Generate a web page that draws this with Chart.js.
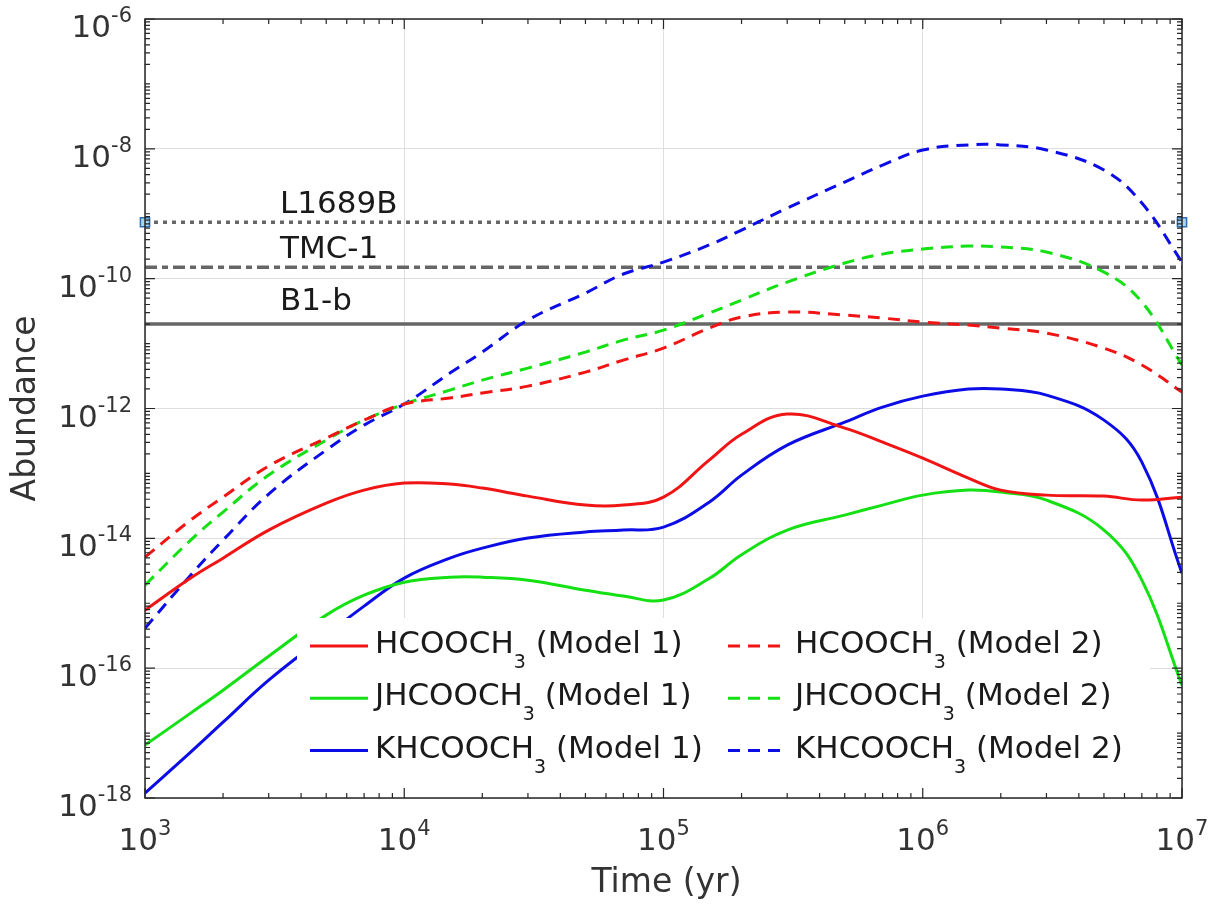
<!DOCTYPE html>
<html>
<head>
<meta charset="utf-8">
<script src="https://cdn.jsdelivr.net/npm/chart.js@4.4.1/dist/chart.umd.min.js"></script>
<style>
  html, body { margin: 0; padding: 0; background: #fff; }
  #wrap { width: 1218px; height: 905px; }
</style>
</head>
<body>
<div id="wrap"><canvas id="abundanceChart" width="1218" height="905"></canvas></div>
<script>
// time grid (yr)
const times = [1e3, 1.5e3, 2e3, 3e3, 5e3, 7e3,
               1e4, 1.5e4, 2e4, 3e4, 5e4, 7e4,
               1e5, 1.5e5, 2e5, 3e5, 5e5, 7e5,
               1e6, 1.5e6, 2e6, 3e6, 5e6, 7e6, 1e7];

// Model 1
const hcoochM1 = [7.8e-16, 2.44e-15, 4.95e-15, 1.34e-14, 3.48e-14, 5.53e-14,
                  7.1e-14, 6.85e-14, 5.94e-14, 4.47e-14, 3.25e-14, 3.25e-14,
                  4.31e-14, 1.6e-13, 4.0e-13, 8.2e-13, 4.99e-13, 3.03e-13,
                  1.72e-13, 8.47e-14, 5.53e-14, 4.63e-14, 4.47e-14, 3.88e-14, 4.31e-14];
const jhcoochM1 = [6.52e-18, 2.03e-17, 4.58e-17, 1.53e-16, 6.56e-16, 1.33e-15,
                   2.11e-15, 2.52e-15, 2.52e-15, 2.27e-15, 1.59e-15, 1.29e-15,
                   1.12e-15, 2.4e-15, 5.6e-15, 1.34e-14, 2.28e-14, 3.25e-14,
                   4.63e-14, 5.53e-14, 5.15e-14, 3.88e-14, 1.34e-14, 2.27e-15, 5.47e-17];
const khcoochM1 = [1.19e-18, 5.08e-18, 1.47e-17, 6.53e-17, 3.23e-16, 9.02e-16,
                   2.44e-15, 4.95e-15, 7.06e-15, 1.01e-14, 1.25e-14, 1.34e-14,
                   1.49e-14, 3.6e-14, 9.4e-14, 2.73e-13, 6.17e-13, 1.05e-12,
                   1.55e-12, 1.99e-12, 1.99e-12, 1.61e-12, 6.62e-13, 1.49e-13, 2.91e-15];

// Model 2
const hcoochM2 = [5.13e-15, 1.91e-14, 4.31e-14, 1.3e-13, 3.5e-13, 6.62e-13,
                  1.17e-12, 1.45e-12, 1.73e-12, 2.21e-12, 3.64e-12, 5.57e-12,
                  8.53e-12, 1.73e-11, 2.56e-11, 3.06e-11, 2.75e-11, 2.47e-11,
                  2.14e-11, 1.93e-11, 1.73e-11, 1.45e-11, 8.5e-12, 4.67e-12, 1.79e-12];
const jhcoochM2 = [1.9e-15, 9.38e-15, 2.54e-14, 9.42e-14, 3.26e-13, 6.62e-13,
                   1.17e-12, 1.92e-12, 2.74e-12, 4.19e-12, 7.4e-12, 1.13e-11,
                   1.61e-11, 2.95e-11, 4.68e-11, 8.87e-11, 1.74e-10, 2.39e-10,
                   2.86e-10, 3.18e-10, 3.07e-10, 2.57e-10, 1.26e-10, 4.36e-11, 4.67e-12];
const khcoochM2 = [4.13e-16, 2.71e-15, 9.38e-15, 4.8e-14, 2.29e-13, 5.55e-13,
                   1.17e-12, 3.51e-12, 7.4e-12, 2.3e-11, 6.0e-11, 1.18e-10,
                   1.8e-10, 3.3e-10, 5.61e-10, 1.22e-9, 3.08e-9, 5.62e-9,
                   9.59e-9, 1.15e-8, 1.15e-8, 9.59e-9, 4.71e-9, 1.46e-9, 1.8e-10];

// observed abundances
const refNames = ['L1689B', 'TMC-1', 'B1-b'];
const refValues = [7.4e-10, 1.5e-10, 2e-11];

// ticks
const xTickValues = [1e3, 1e4, 1e5, 1e6, 1e7];
const xTickLabels = ['3', '4', '5', '6', '7'];
const yTickValues = [1e-18, 1e-16, 1e-14, 1e-12, 1e-10, 1e-8, 1e-6];
const yTickLabels = ['-18', '-16', '-14', '-12', '-10', '-8', '-6'];

const FONT = '"DejaVu Sans", sans-serif';
const RED = '#f01414', GREEN = '#14e014', BLUE = '#0c0ce6', GRAY = '#666666';

const pts = arr => times.map((t, i) => ({ x: t, y: arr[i] }));
const curve = (label, arr, color, dashed) => ({
    label: label,
    data: pts(arr),
    borderColor: color,
    borderWidth: 3,
    borderDash: dashed ? [12, 8] : [],
    pointRadius: 0,
    fill: false,
    tension: 0.4
});
const refLine = (i, dash, marker) => ({
    label: refNames[i],
    data: [{ x: 1e3, y: refValues[i] }, { x: 1e7, y: refValues[i] }],
    borderColor: GRAY,
    borderWidth: 3.5,
    borderDash: dash,
    pointRadius: marker ? 6.5 : 0,
    pointStyle: 'rect',
    pointBackgroundColor: '#a6d6f2',
    pointBorderColor: '#2f6fb0',
    pointBorderWidth: 1.5,
    fill: false,
    clip: false
});

// curves first so they sit on top of the gray reference lines
const datasets = [
    curve('HCOOCH\u2083 (Model 1)', hcoochM1, RED, false),
    curve('JHCOOCH\u2083 (Model 1)', jhcoochM1, GREEN, false),
    curve('KHCOOCH\u2083 (Model 1)', khcoochM1, BLUE, false),
    curve('HCOOCH\u2083 (Model 2)', hcoochM2, RED, true),
    curve('JHCOOCH\u2083 (Model 2)', jhcoochM2, GREEN, true),
    curve('KHCOOCH\u2083 (Model 2)', khcoochM2, BLUE, true),
    refLine(0, [4, 5], true),
    refLine(1, [12, 5, 6, 5], false),
    refLine(2, [], false)
];

function drawPow(ctx, exp, x, y, align) {
    ctx.font = '31px ' + FONT;
    const w1 = ctx.measureText('10').width;
    ctx.font = '21px ' + FONT;
    const w2 = ctx.measureText(exp).width;
    const x0 = align === 'center' ? x - (w1 + w2) / 2 : x - (w1 + w2);
    ctx.textAlign = 'left';
    ctx.textBaseline = 'alphabetic';
    ctx.font = '31px ' + FONT;
    ctx.fillText('10', x0, y);
    ctx.font = '21px ' + FONT;
    ctx.fillText(exp, x0 + w1, y - 15);
}

const decor = {
    id: 'decor',
    afterDatasetsDraw(chart) {
        const { ctx, chartArea: a, scales: { x, y } } = chart;
        ctx.save();

        // reference labels
        ctx.fillStyle = '#1a1a1a';
        ctx.font = '31px ' + FONT;
        ctx.textAlign = 'left';
        ctx.textBaseline = 'alphabetic';
        refNames.forEach((name, i) => {
            const py = y.getPixelForValue(refValues[i]);
            ctx.fillText(name, 280, py - 9 - (i === 2 ? 5 : 0));
        });

        // legend (white box, two columns)
        ctx.fillStyle = '#ffffff';
        ctx.fillRect(297, 618, 853, 172);
        const rows = [0, 1, 2];
        const cols = [{ x1: 310, x2: 368, tx: 375 }, { x1: 728, x2: 788, tx: 795 }];
        cols.forEach((c, ci) => {
            rows.forEach(r => {
                const ds = datasets[ci * 3 + r];
                const base = 653 + r * 52.3;
                ctx.beginPath();
                ctx.strokeStyle = ds.borderColor;
                ctx.lineWidth = 3;
                ctx.setLineDash(ds.borderDash);
                ctx.moveTo(c.x1, base - 7);
                ctx.lineTo(c.x2, base - 7);
                ctx.stroke();
                ctx.setLineDash([]);
                const parts = ds.label.split('\u2083');
                ctx.fillStyle = '#1a1a1a';
                ctx.font = '31px ' + FONT;
                ctx.fillText(parts[0], c.tx, base);
                let px = c.tx + ctx.measureText(parts[0]).width;
                ctx.font = '19px ' + FONT;
                ctx.fillText('3', px, base + 15);
                px += ctx.measureText('3').width;
                ctx.font = '31px ' + FONT;
                ctx.fillText(parts[1], px, base);
            });
        });

        // box
        ctx.strokeStyle = '#262626';
        ctx.lineWidth = 1.5;
        ctx.strokeRect(a.left, a.top, a.right - a.left, a.bottom - a.top);

        // inward ticks
        ctx.beginPath();
        for (let d = 3; d <= 7; d++) {
            for (let k = 1; k <= 9; k++) {
                const v = k * Math.pow(10, d);
                if (v > 1e7) break;
                const px = x.getPixelForValue(v);
                const len = k === 1 ? 10 : 5;
                ctx.moveTo(px, a.bottom); ctx.lineTo(px, a.bottom - len);
                ctx.moveTo(px, a.top); ctx.lineTo(px, a.top + len);
            }
        }
        for (let d = -18; d <= -6; d++) {
            for (let k = 1; k <= 9; k++) {
                const v = k * Math.pow(10, d);
                if (v > 1e-6 * 1.0001) break;
                const py = y.getPixelForValue(v);
                const len = (k === 1 && d % 2 === 0) ? 10 : 5;
                ctx.moveTo(a.left, py); ctx.lineTo(a.left + len, py);
                ctx.moveTo(a.right, py); ctx.lineTo(a.right - len, py);
            }
        }
        ctx.lineWidth = 1.2;
        ctx.stroke();

        // tick labels
        ctx.fillStyle = '#333333';
        xTickValues.forEach((v, i) => drawPow(ctx, xTickLabels[i], x.getPixelForValue(v), a.bottom + 52, 'center'));
        yTickValues.forEach((v, i) => drawPow(ctx, yTickLabels[i], a.left - 13, y.getPixelForValue(v) + 18, 'right'));

        // axis titles
        ctx.font = '33px ' + FONT;
        ctx.textAlign = 'center';
        ctx.fillText('Time (yr)', (a.left + a.right) / 2 + 3, 892);
        ctx.translate(35, (a.top + a.bottom) / 2);
        ctx.rotate(-Math.PI / 2);
        ctx.fillText('Abundance', 0, 0);
        ctx.restore();
    }
};

const ctx = document.getElementById('abundanceChart').getContext('2d');
new Chart(ctx, {
    type: 'line',
    data: { datasets: datasets },
    options: {
        responsive: false,
        animation: false,
        devicePixelRatio: 1,
        events: [],
        layout: { padding: { left: 145, top: 19, right: 36, bottom: 107 } },
        plugins: { legend: { display: false }, tooltip: { enabled: false } },
        scales: {
            x: {
                type: 'logarithmic',
                min: 1e3,
                max: 1e7,
                afterBuildTicks: s => { s.ticks = xTickValues.map(v => ({ value: v })); },
                ticks: { display: false },
                grid: { color: '#dedede', lineWidth: 1, drawTicks: false },
                border: { display: false }
            },
            y: {
                type: 'logarithmic',
                min: 1e-18,
                max: 1e-6,
                afterBuildTicks: s => { s.ticks = yTickValues.map(v => ({ value: v })); },
                ticks: { display: false },
                grid: { color: '#dedede', lineWidth: 1, drawTicks: false },
                border: { display: false }
            }
        }
    },
    plugins: [decor]
});
</script>
</body>
</html>
